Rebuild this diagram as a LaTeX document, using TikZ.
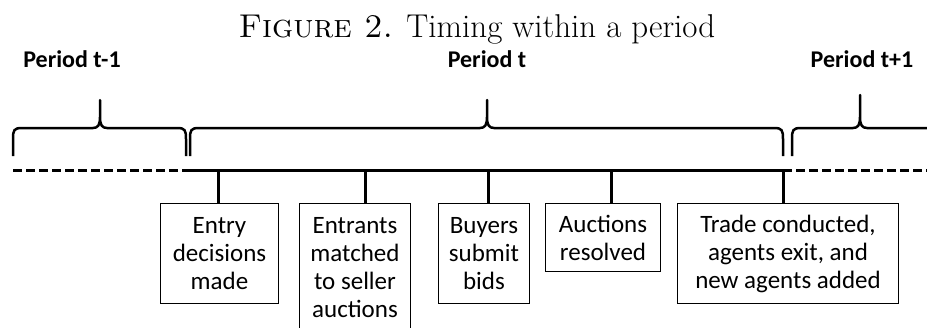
\documentclass[tikz,border=0pt]{standalone}
\usepackage{fontspec}
\setsansfont{Carlito}
\usetikzlibrary{positioning}
\newcommand{\periodbrace}[4]{%
  \draw[brc] (#1,156) -- (#1,139) .. controls (#1,130) and (#1+1,128) .. (#1+9,128)
    -- (#2-7,128) .. controls (#2-2,128) and (#2,125) .. (#2,117) -- (#2,#4)
    -- (#2,117) .. controls (#2,125) and (#2+2,128) .. (#2+7,128)
    -- (#3-9,128) .. controls (#3-1,128) and (#3,130) .. (#3,139) -- (#3,156);}

\begin{document}
\begin{tikzpicture}[x=1pt, y=-1pt,
    ttl/.style={font=\rmfamily\fontsize{33}{38}\selectfont, anchor=base},
    per/.style={font=\sffamily\bfseries\fontsize{24}{28}\selectfont, anchor=base},
    brc/.style={line width=2.5pt, line join=round},
    tline/.style={line width=3pt},
    dline/.style={line width=3pt, dash pattern=on 9pt off 4pt},
    tick/.style={line width=3pt},
    event/.style={draw, line width=1pt, anchor=north west, align=center, inner sep=0pt,
      font=\sffamily\fontsize{25}{28}\selectfont},
]
\clip (0,0) rectangle (927,327);

\node[ttl] (title) at (477,37) {\textsc{Figure 2.} Timing within a period};

\node[per] (pprev) at (72,67) {Period t-1};
\node[per] (pcur) at (487,67) {Period t};
\node[per] (pnext) at (862,67) {Period t+1};

\periodbrace{13}{100}{186}{100}
\periodbrace{190}{487}{783}{100}
\periodbrace{792}{860}{960}{95}

% time line
\coordinate (lineL) at (13,170);
\coordinate (pStart) at (190,170);
\coordinate (pEnd) at (783,170);
\coordinate (lineR) at (927,170);
\draw[dline] (lineL) -- (pStart);
\draw[tline] (pStart) -- (pEnd);
\draw[dline] (pEnd) -- (lineR);

\node[event, minimum width=118, minimum height=100] (e1) at (160,203)
  {Entry\\decisions\\made};
\node[event, minimum width=111, minimum height=128] (e2) at (299,203)
  {Entrants\\matched\\to seller\\auctions};
\node[event, minimum width=91, minimum height=100] (e3) at (438,203)
  {Buyers\\submit\\bids};
\node[event, minimum width=115, minimum height=68] (e4) at (545,203)
  {Auctions\\resolved};
\node[event, minimum width=221, minimum height=100] (e5) at (677,203)
  {Trade conducted,\\agents exit, and\\new agents added};

\coordinate (tk1) at (218,170);
\coordinate (tk2) at (365,170);
\coordinate (tk3) at (488,170);
\coordinate (tk4) at (611,170);
\coordinate (tk5) at (783,170);
\foreach \i in {1,...,5}
  \draw[tick] (tk\i) -- (tk\i |- e\i.north);
\end{tikzpicture}
\end{document}
